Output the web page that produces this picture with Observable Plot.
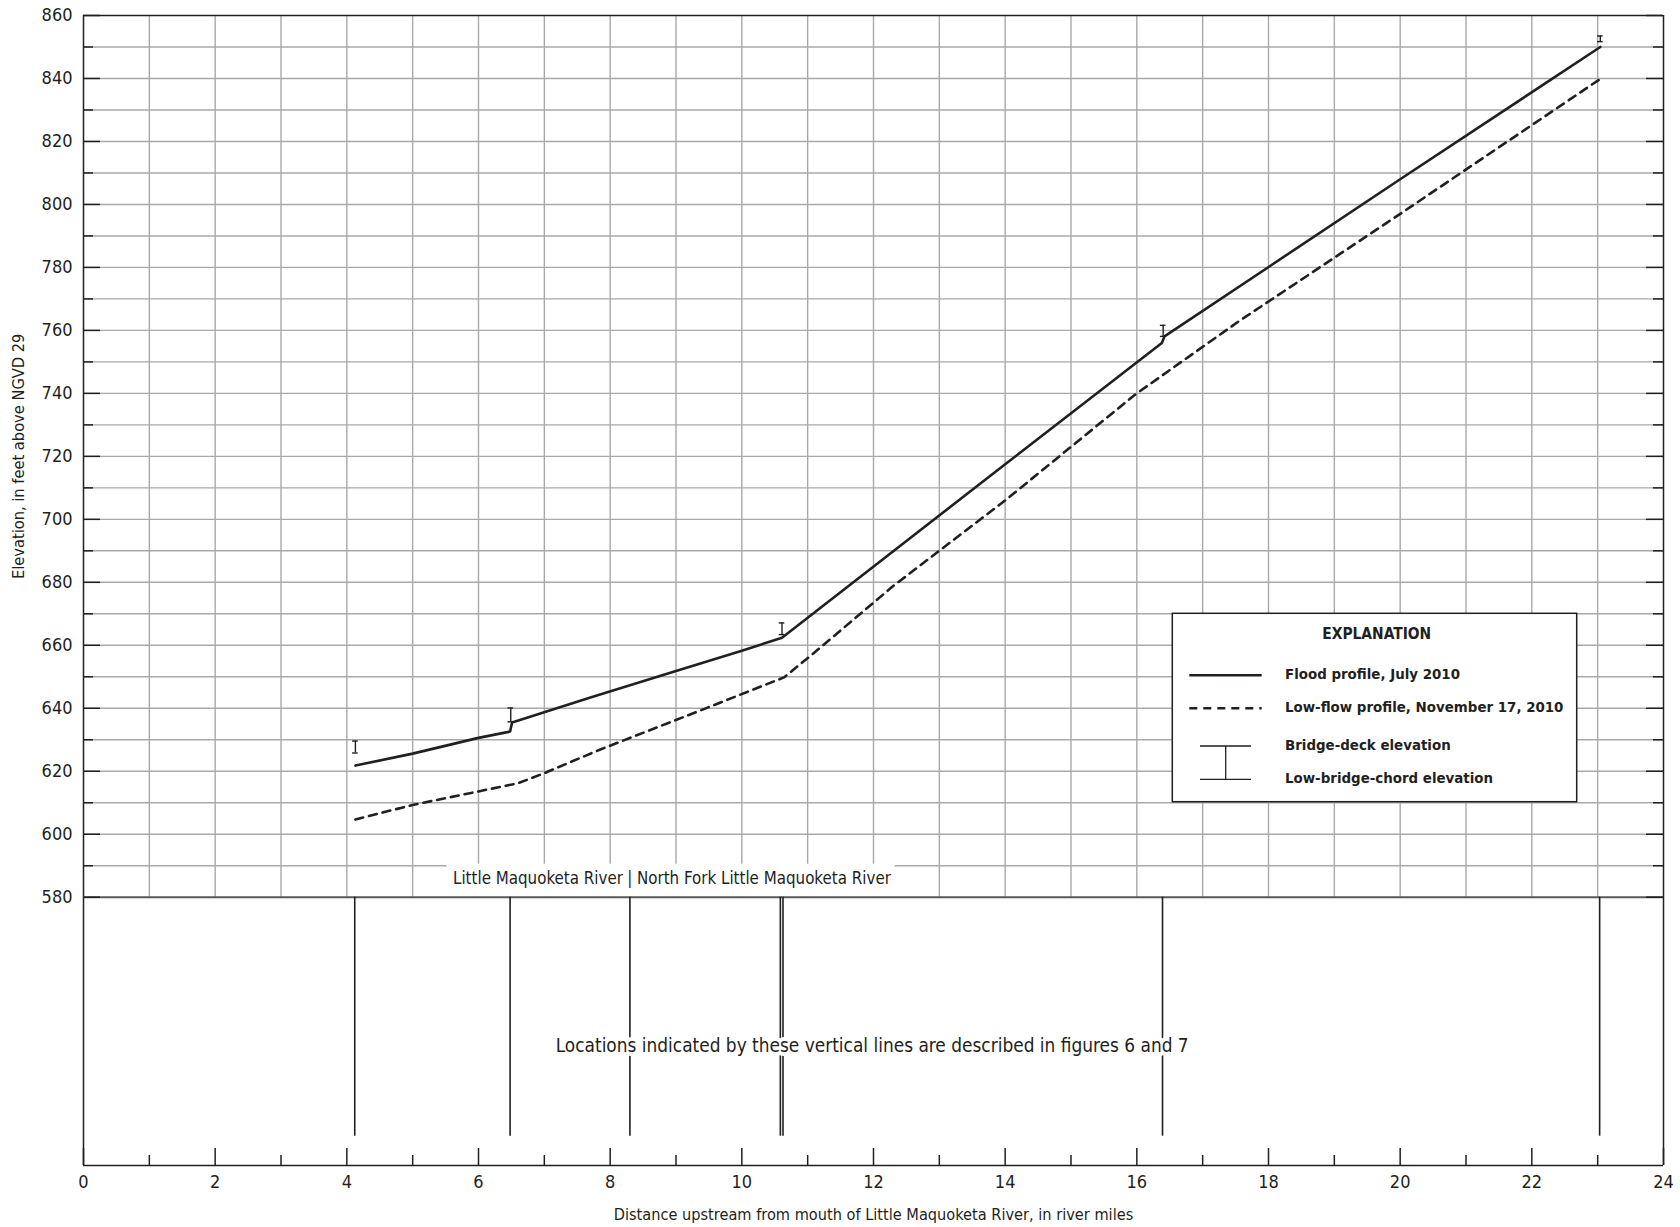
<!DOCTYPE html>
<html><head><meta charset="utf-8">
<script src="https://cdn.jsdelivr.net/npm/d3@7"></script>
<script src="https://cdn.jsdelivr.net/npm/@observablehq/plot@0.6"></script>
<style>
html,body{margin:0;padding:0;background:#fff;}
#chart{width:1680px;height:1227px;}
</style></head><body><div id="chart"></div>
<script>
const FONT = '"Liberation Sans Narrow","Arial Narrow","DejaVu Sans Condensed",sans-serif';
const INK = "#231f20";
const GRID = "#a7a9ac";

// Flood profile, July 2010 (river miles, feet above NGVD 29)
const floodMiles = [4.13, 5.0, 6.0, 6.48, 6.51, 7.70, 9.0, 10.0, 10.61, 14.0, 16.38, 16.42, 20.0, 23.04];
const floodElev  = [621.8, 625.6, 630.6, 632.6, 635.5, 643.4, 651.8, 658.3, 662.4, 717.5, 756.0, 758.1, 808.0, 850.0];

// Low-flow profile, November 17, 2010
const lowMiles = [4.13, 5.0, 6.0, 6.6, 7.0, 7.86, 9.37, 10.64, 11.04, 12.31, 14.0, 15.98, 17.55, 20.0, 23.05];
const lowElev  = [604.7, 609.3, 613.6, 616.2, 619.4, 627.0, 639.3, 649.8, 656.6, 679.0, 706.0, 739.7, 762.9, 797.0, 840.0];

// Bridges
const bridgeMiles = [4.13, 6.49, 10.61, 16.40, 23.04];
const deckElev    = [629.6, 640.1, 667.1, 761.6, 853.5];
const chordElev   = [625.8, 635.7, 663.4, 758.1, 851.7];

// Locations described in figures 6 and 7
const locationMiles = [4.12, 6.48, 8.30, 10.585, 10.625, 16.39, 23.03];

// Axes
const yTicks = d3.range(580, 861, 20);
const yMinor = d3.range(590, 860, 20);
const xTicks = d3.range(0, 25, 2);
const xMinor = d3.range(1, 24, 2);
const hGrid = d3.range(590, 860, 10);
const vGrid = d3.range(1, 24, 1);
const yDomain = [494.8, 860];
const panelTop = 860, panelBase = 580, locationLineBottom = 504.1;

// Annotations
const riverSplitMile = 8.30, riverLabelElev = 586.0;
const riverLeft = "Little Maquoketa River";
const riverRight = "North Fork Little Maquoketa River";
const riverLabelBox = [{x1: 5.52, x2: 12.33, y1: 580, y2: 590}];
const noteText = "Locations indicated by these vertical lines are described in figures 6 and 7";
const noteMile = 11.98, noteElev = 532.7;
const yTitle = "Elevation, in feet above NGVD 29";
const xTitle = "Distance upstream from mouth of Little Maquoketa River, in river miles";

const flood = floodMiles.map((m, i) => ({mile: m, elev: floodElev[i]}));
const low = lowMiles.map((m, i) => ({mile: m, elev: lowElev[i]}));
const bridges = bridgeMiles.map((m, i) => ({mile: m, deck: deckElev[i], chord: chordElev[i]}));

const plot = Plot.plot({
  width: 1680, height: 1227,
  marginLeft: 83, marginRight: 17, marginTop: 15, marginBottom: 62,
  x: {domain: [0, 24]},
  y: {domain: yDomain},
  style: {fontFamily: FONT, background: "#fff", color: INK},
  marks: [
    // grid
    Plot.ruleY(hGrid, {x1: 0, x2: 24, stroke: GRID, strokeWidth: 1.4}),
    Plot.ruleX(vGrid, {y1: panelBase, y2: panelTop, stroke: GRID, strokeWidth: 1.4}),
    // river label box
    Plot.rect(riverLabelBox, {x1: "x1", x2: "x2", y1: "y1", y2: "y2", fill: "white", insetTop: -1.5}),
    Plot.text([riverLeft], {x: riverSplitMile, y: riverLabelElev, text: d => d, textAnchor: "end", dx: -7, fontSize: 16.8, fill: INK}),
    Plot.text(["|"], {x: riverSplitMile, y: riverLabelElev, text: d => d, fontSize: 16.8, fill: INK}),
    Plot.text([riverRight], {x: riverSplitMile, y: riverLabelElev, text: d => d, textAnchor: "start", dx: 7, fontSize: 16.8, fill: INK}),
    // frame
    Plot.ruleY([panelTop], {x1: 0, x2: 24, stroke: INK, strokeWidth: 1.5}),
    Plot.ruleY([yDomain[0]], {x1: 0, x2: 24, stroke: INK, strokeWidth: 1.6}),
    Plot.ruleX([0, 24], {y1: yDomain[0], y2: panelTop, stroke: INK, strokeWidth: 1.5}),
    Plot.ruleY([panelBase], {x1: 0, x2: 24, stroke: "#58595b", strokeWidth: 2}),
    // inward ticks
    Plot.ruleY(yTicks, {x1: 0, x2: 0, insetRight: -17, stroke: INK, strokeWidth: 1.5}),
    Plot.ruleY(yMinor, {x1: 0, x2: 0, insetRight: -10, stroke: INK, strokeWidth: 1.5}),
    Plot.ruleY(yTicks, {x1: 24, x2: 24, insetLeft: -17, stroke: INK, strokeWidth: 1.5}),
    Plot.ruleY(yMinor, {x1: 24, x2: 24, insetLeft: -10, stroke: INK, strokeWidth: 1.5}),
    Plot.ruleX(xTicks, {y1: yDomain[0], y2: yDomain[0], insetTop: -17, stroke: INK, strokeWidth: 1.5}),
    Plot.ruleX(xMinor, {y1: yDomain[0], y2: yDomain[0], insetTop: -10, stroke: INK, strokeWidth: 1.5}),
    // location lines
    Plot.ruleX(locationMiles, {y1: locationLineBottom, y2: panelBase, stroke: INK, strokeWidth: 1.6}),
    Plot.text([noteText], {x: noteMile, y: noteElev, text: d => d, fontSize: 18.9, fill: INK,
      stroke: "white", strokeWidth: 8, paintOrder: "stroke"}),
    // profiles
    Plot.line(low, {x: "mile", y: "elev", stroke: INK, strokeWidth: 2.6, strokeDasharray: "8,6"}),
    Plot.line(flood, {x: "mile", y: "elev", stroke: INK, strokeWidth: 2.6}),
    // bridges
    Plot.ruleX(bridges, {x: "mile", y1: "chord", y2: "deck", stroke: INK, strokeWidth: 1.4}),
    Plot.ruleY(bridges, {y: "deck", x1: "mile", x2: "mile", insetLeft: -2.8, insetRight: -2.8, stroke: INK, strokeWidth: 1.4}),
    Plot.ruleY(bridges, {y: "chord", x1: "mile", x2: "mile", insetLeft: -2.8, insetRight: -2.8, stroke: INK, strokeWidth: 1.4}),
    // axes
    Plot.axisY({ticks: yTicks, tickSize: 0, tickPadding: 11, fontSize: 18, label: null}),
    Plot.axisX({ticks: xTicks, tickSize: 0, tickPadding: 10, fontSize: 18, label: null}),
    Plot.text([yTitle], {x: 0, y: (panelTop + panelBase) / 2, text: d => d, rotate: -90, dx: -65, fontSize: 16.3, fill: INK}),
    Plot.text([xTitle], {x: 12, y: yDomain[0], text: d => d, dy: 49, fontSize: 16.2, fill: INK})
  ]
});

// Explanation box
const svg = d3.select(plot);
const g = svg.append("g").attr("font-family", FONT).attr("fill", INK).attr("text-anchor", "start");
g.append("rect").attr("x", 1172.3).attr("y", 613.3).attr("width", 404.4).attr("height", 188.4)
  .attr("fill", "white").attr("stroke", INK).attr("stroke-width", 1.5);
g.append("text").attr("x", 1376.7).attr("y", 634.3).attr("text-anchor", "middle").attr("dominant-baseline", "middle")
  .attr("font-weight", "bold").attr("font-size", 15.4).text("EXPLANATION");
g.append("line").attr("x1", 1189.3).attr("x2", 1261.7).attr("y1", 675.3).attr("y2", 675.3)
  .attr("stroke", INK).attr("stroke-width", 2.6);
g.append("line").attr("x1", 1189.3).attr("x2", 1261.7).attr("y1", 708.3).attr("y2", 708.3)
  .attr("stroke", INK).attr("stroke-width", 2.6).attr("stroke-dasharray", "8,6");
g.append("line").attr("x1", 1225.7).attr("x2", 1225.7).attr("y1", 746).attr("y2", 779.3).attr("stroke", INK).attr("stroke-width", 1.3);
g.append("line").attr("x1", 1200).attr("x2", 1251).attr("y1", 746).attr("y2", 746).attr("stroke", INK).attr("stroke-width", 1.3);
g.append("line").attr("x1", 1200).attr("x2", 1251).attr("y1", 779.3).attr("y2", 779.3).attr("stroke", INK).attr("stroke-width", 1.3);
const legendItems = [
  ["Flood profile, July 2010", 675.3],
  ["Low-flow profile, November 17, 2010", 708.3],
  ["Bridge-deck elevation", 746],
  ["Low-bridge-chord elevation", 779.3]
];
for (const [t, y] of legendItems) {
  g.append("text").attr("x", 1285).attr("y", y).attr("dominant-baseline", "middle").attr("text-anchor", "start")
    .attr("font-weight", "bold").attr("font-size", 14.9).text(t);
}

document.getElementById("chart").appendChild(plot);
</script>
</body></html>
